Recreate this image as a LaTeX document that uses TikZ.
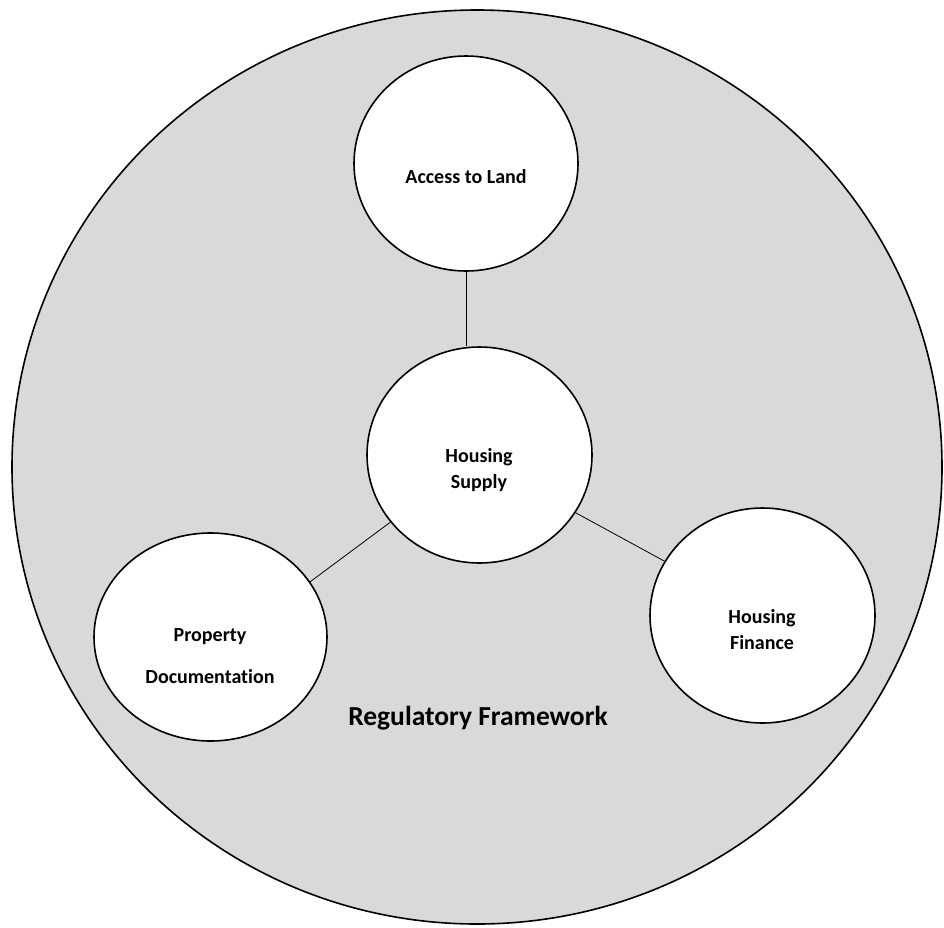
\documentclass[tikz,border=0pt]{standalone}
\usepackage{fontspec}
\setmainfont{Carlito}[Ligatures=NoCommon]
\usetikzlibrary{shapes.geometric}
\definecolor{framegray}{RGB}{217,217,217}
\begin{document}
\begin{tikzpicture}[x=1pt,y=-1pt,
  bubble/.style={ellipse,draw=black,line width=1.6pt,fill=white,inner sep=0pt},
  link/.style={draw=black,line width=0.8pt},
  lbl/.style={align=center,inner sep=0pt,font=\bfseries\fontsize{20}{26}\selectfont},
  widelbl/.style={align=center,inner sep=0pt,font=\bfseries\fontsize{20}{42}\selectfont},
  biglbl/.style={inner sep=0pt,font=\bfseries\fontsize{27.5}{30}\selectfont}]
\useasboundingbox (0,0) rectangle (944,927);
% outer regulatory framework
\node[ellipse,draw=black,line width=1.6pt,fill=framegray,inner sep=0pt,
      minimum width=930pt,minimum height=914pt] (frame) at (477,467) {};
% inner circles
\node[bubble,minimum width=224pt,minimum height=215pt] (acc) at (466,163.5) {};
\node[bubble,minimum width=225pt,minimum height=216pt] (sup) at (479.5,455) {};
\node[bubble,minimum width=233pt,minimum height=208pt] (prop) at (210.5,637) {};
\node[bubble,minimum width=225pt,minimum height=215pt] (fin) at (762.5,615.5) {};
% connectors
\draw[link] (acc.south) -- (acc.south |- sup.north);
\draw[link] (sup.217) -- (prop.29);
\draw[link] (sup.329) -- (fin.151);
% labels
\node[lbl] (accT) at (466,177) {Access to Land};
\node[lbl] (supT) at (479,470) {Housing\\Supply};
\node[widelbl] (propT) at (210,656) {Property\\Documentation};
\node[lbl] (finT) at (762,630) {Housing\\Finance};
\node[biglbl] (frameT) at (478,718) {Regulatory Framework};
\end{tikzpicture}
\end{document}
